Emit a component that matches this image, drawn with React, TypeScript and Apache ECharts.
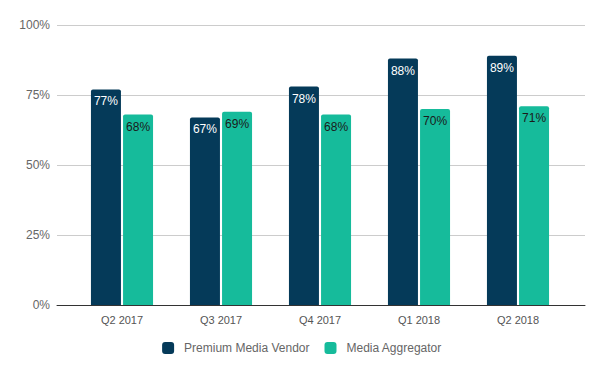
import React, { useEffect, useRef } from "react";
import * as echarts from "echarts";

const categories = ["Q2 2017", "Q3 2017", "Q4 2017", "Q1 2018", "Q2 2018"];
const premiumVendor = [77, 67, 78, 88, 89];
const mediaAggregator = [68, 69, 68, 70, 71];
const yTicks = [0, 25, 50, 75, 100];

const FONT = "Arial, 'Liberation Sans', sans-serif";

export default function App() {
  const ref = useRef<HTMLDivElement>(null);
  useEffect(() => {
    if (!ref.current) return;
    const chart = echarts.init(ref.current, undefined, { renderer: "svg" });
    chart.setOption({
      animation: false,
      textStyle: { fontFamily: FONT },
      grid: [
        { left: 57, right: 19, top: 25, bottom: 66 },
        { left: 72.5, right: 36.5, top: 25, bottom: 66 },
      ],
      legend: {
        top: 337,
        left: "center",
        itemWidth: 12,
        itemHeight: 12,
        itemGap: 15,
        icon: "roundRect",
        textStyle: { color: "#666666", fontSize: 12, fontFamily: FONT, padding: [0, 0, 0, 5] },
        data: ["Premium Media Vendor", "Media Aggregator"],
      },
      xAxis: [
        {
          type: "value",
          gridIndex: 0,
          min: 0,
          max: 1,
          axisLine: { show: true, onZero: true, lineStyle: { color: "#333333", width: 1 } },
          axisTick: { show: false },
          axisLabel: { show: false },
          splitLine: { show: false },
        },
        {
          type: "category",
          gridIndex: 1,
          data: categories,
          axisLine: { show: false },
          axisTick: { show: false },
          axisLabel: { color: "#555555", fontSize: 11, margin: 9, fontFamily: FONT },
        },
      ],
      yAxis: [
        {
          type: "value",
          gridIndex: 0,
          min: 0,
          max: 100,
          interval: 25,
          axisLine: { show: false },
          axisTick: { show: false },
          axisLabel: {
            color: "#666666",
            fontSize: 12,
            margin: 7,
            fontFamily: FONT,
            formatter: (v: number) => (yTicks.includes(v) ? v + "%" : ""),
          },
          splitLine: { lineStyle: { color: "#cccccc", width: 1 } },
        },
        {
          type: "value",
          gridIndex: 1,
          min: 0,
          max: 100,
          show: false,
          splitLine: { show: false },
        },
      ],
      series: [
        {
          name: "Premium Media Vendor",
          type: "bar",
          xAxisIndex: 1,
          yAxisIndex: 1,
          data: premiumVendor,
          barWidth: 30,
          barGap: "7%",
          itemStyle: { color: "#053a59", borderRadius: [2, 2, 0, 0] },
          label: {
            show: true,
            position: "insideTop",
            distance: 6,
            color: "#ffffff",
            fontSize: 12,
            fontFamily: FONT,
            formatter: "{c}%",
          },
        },
        {
          name: "Media Aggregator",
          type: "bar",
          xAxisIndex: 1,
          yAxisIndex: 1,
          data: mediaAggregator,
          barWidth: 30,
          itemStyle: { color: "#16bb9b", borderRadius: [2, 2, 0, 0] },
          label: {
            show: true,
            position: "insideTop",
            distance: 6,
            color: "#1a1a1a",
            fontSize: 12,
            fontFamily: FONT,
            formatter: "{c}%",
          },
        },
      ],
    });
    return () => chart.dispose();
  }, []);
  return (
    <div
      ref={ref}
      style={{ position: "absolute", left: 0, top: 0, width: 604, height: 371, background: "#ffffff" }}
    />
  );
}
